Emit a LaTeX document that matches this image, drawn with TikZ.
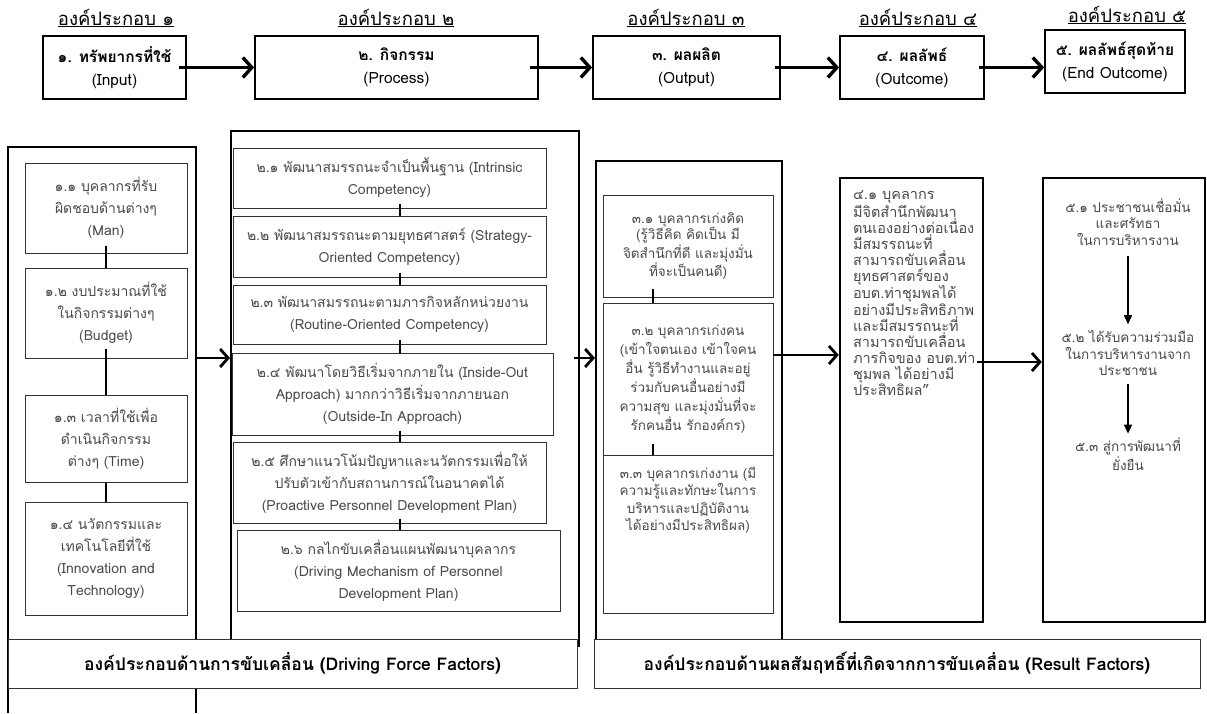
\documentclass[tikz,border=0pt]{standalone}
\usepackage{fontspec}
\setmainfont[Script=Thai]{Loma}
\usetikzlibrary{arrows.meta,calc}
\definecolor{txtgray}{HTML}{4A4A4A}
\definecolor{linegray}{HTML}{333333}
\tikzset{
  hdr/.style={font=\fontsize{18.5}{20}\selectfont, anchor=base, inner sep=0pt},
  topbox/.style={draw=black, line width=1.8pt, align=center, inner sep=2pt, font=\fontsize{15.5}{23}\selectfont},
  frame/.style={draw=black, line width=2.4pt, inner sep=0pt},
  inbox/.style={draw=linegray, line width=1pt, align=center, inner sep=1pt, text=txtgray, font=\fontsize{14}{22}\selectfont},
  cbox/.style={draw=linegray, line width=1pt, inner sep=0pt},
  link/.style={line width=2.8pt, draw=black},
  bigarrow/.style={line width=3.4pt, -{Straight Barb[length=9pt,width=20pt]}},
  colarrow/.style={line width=2.8pt, -{Straight Barb[length=8pt,width=18pt]}},
  downarrow/.style={line width=1.5pt, -{Triangle[length=9pt,width=8pt]}},
  bar/.style={draw=linegray, line width=1pt, fill=white, font=\bfseries\fontsize{17.5}{20}\selectfont},
  coltext/.style={text=txtgray, align=center, inner sep=0pt, font=\fontsize{13.5}{16.5}\selectfont},
}
\begin{document}
\begin{tikzpicture}[x=1pt,y=-1pt]
\useasboundingbox[fill=white] (0,0) rectangle (1207,713);

% headers
\node[hdr] (h1) at (116,25) {\underline{องค์ประกอบ ๑}};
\node[hdr] (h2) at (396,25) {\underline{องค์ประกอบ ๒}};
\node[hdr] (h3) at (686,25) {\underline{องค์ประกอบ ๓}};
\node[hdr] (h4) at (918,25) {\underline{องค์ประกอบ ๔}};
\node[hdr] (h5) at (1127,22) {\underline{องค์ประกอบ ๕}};

% top row
\node[topbox, minimum width=143pt, minimum height=63pt] (n1) at (114.5,67.5) {\textbf{๑. ทรัพยากรที่ใช้}\\(Input)};
\node[topbox, minimum width=283pt, minimum height=63pt] (n2) at (396.5,67.5) {\textbf{๒. กิจกรรม}\\(Process)};
\node[topbox, minimum width=187pt, minimum height=63pt] (n3) at (686.5,67.5) {\textbf{๓. ผลผลิต}\\(Output)};
\node[topbox, minimum width=144pt, minimum height=63pt] (n4) at (912,67.5) {\textbf{๔. ผลลัพธ์}\\(Outcome)};
\node[topbox, minimum width=140pt, minimum height=63pt] (n5) at (1115,61.5) {\textbf{๕. ผลลัพธ์สุดท้าย}\\(End Outcome)};
\draw[bigarrow] ([xshift=-8pt]n1.east) -- (n2.west);
\draw[bigarrow] ([xshift=-9pt]n2.east) -- (n3.west);
\draw[bigarrow] ([xshift=-6pt]n3.east) -- (n4.west);
\draw[bigarrow] ([xshift=-6pt]n4.east) -- (n4.east -| n5.west);

% column 1
\draw[frame] (8,713) -- (8,147) -- (196,147) -- (196,713);
\coordinate (c1e) at (196,358);
\node[inbox, minimum width=162pt, minimum height=90pt] (b11) at (106,208) {๑.๑ บุคลากรที่รับ\\ผิดชอบด้านต่างๆ\\(Man)};
\node[inbox, minimum width=162pt, minimum height=90pt] (b12) at (106,313) {๑.๒ งบประมาณที่ใช้\\ในกิจกรรมต่างๆ\\(Budget)};
\node[inbox, minimum width=162pt, minimum height=87pt] (b13) at (106,438.5) {๑.๓ เวลาที่ใช้เพื่อ\\ดำเนินกิจกรรม\\ต่างๆ (Time)};
\node[inbox, minimum width=162pt, minimum height=113pt] (b14) at (106,558.5) {๑.๔ นวัตกรรมและ\\เทคโนโลยีที่ใช้\\(Innovation and\\Technology)};
\draw[link] ([yshift=8pt]b11.south) -- (b12.north);
\draw[link] ([yshift=10pt]b12.south) -- (b13.north);
\draw[link] (b13.south) -- (b14.north);

% column 2
\node[frame, minimum width=348pt, minimum height=515pt, anchor=north west] (c2) at (230,130) {};
\coordinate (x2) at (400,0);
\node[inbox, minimum width=313pt, minimum height=60pt] (b21) at (389.5,178) {๒.๑ พัฒนาสมรรถนะจำเป็นพื้นฐาน (Intrinsic\\Competency)};
\node[inbox, minimum width=313pt, minimum height=61pt] (b22) at (389.5,246.5) {๒.๒ พัฒนาสมรรถนะตามยุทธศาสตร์ (Strategy-\\Oriented Competency)};
\node[inbox, minimum width=313pt, minimum height=59pt] (b23) at (389.5,314.5) {๒.๓ พัฒนาสมรรถนะตามภารกิจหลักหน่วยงาน\\(Routine-Oriented Competency)};
\node[inbox, minimum width=321pt, minimum height=82pt] (b24) at (392.5,394) {๒.๔ พัฒนาโดยวิธีเริ่มจากภายใน (Inside-Out\\Approach) มากกว่าวิธีเริ่มจากภายนอก\\(Outside-In Approach)};
\node[inbox, minimum width=313pt, minimum height=81pt] (b25) at (389.5,482.5) {๒.๕ ศึกษาแนวโน้มปัญหาและนวัตกรรมเพื่อให้\\ปรับตัวเข้ากับสถานการณ์ในอนาคตได้\\(Proactive Personnel Development Plan)};
\node[inbox, minimum width=323pt, minimum height=81pt] (b26) at (398.5,570.5) {๒.๖ กลไกขับเคลื่อนแผนพัฒนาบุคลากร\\(Driving Mechanism of Personnel\\Development Plan)};
\draw[link] ([yshift=5pt]b21.south -| x2) -- (b22.north -| x2);
\draw[link] ([yshift=5pt]b22.south -| x2) -- (b23.north -| x2);
\draw[link] ([yshift=5pt]b23.south -| x2) -- (b24.north -| x2);
\draw[link] ([yshift=5pt]b24.south -| x2) -- (b25.north -| x2);
\draw[link] ([yshift=5pt]b25.south -| x2) -- (b26.north -| x2);
\draw[colarrow] (c1e) -- (c1e -| c2.west);

% column 3
\node[frame, minimum width=186pt, minimum height=485pt, anchor=north west] (c3) at (595,160) {};
\coordinate (x3) at (653,0);
\node[inbox, font=\fontsize{13.5}{16.7}\selectfont, minimum width=170pt, minimum height=102pt] (b31) at (688,246) {๓.๑ บุคลากรเก่งคิด\\(รู้วิธีคิด คิดเป็น มี\\จิตสำนึกที่ดี และมุ่งมั่น\\ที่จะเป็นคนดี)};
\node[inbox, font=\fontsize{13.5}{19}\selectfont, minimum width=170pt, minimum height=152pt] (b32) at (688,379) {๓.๒ บุคลากรเก่งคน\\(เข้าใจตนเอง เข้าใจคน\\อื่น รู้วิธีทำงานและอยู่\\ร่วมกับคนอื่นอย่างมี\\ความสุข และมุ่งมั่นที่จะ\\รักคนอื่น รักองค์กร)};
\node[cbox, minimum width=170pt, minimum height=158pt] (b33) at (688,534) {};
\node[coltext, anchor=north, font=\fontsize{13.5}{17.5}\selectfont] (t33) at ([yshift=-12pt]b33.north) {๓.๓ บุคลากรเก่งงาน (มี\\ความรู้และทักษะในการ\\บริหารและปฏิบัติงาน\\ได้อย่างมีประสิทธิผล)};
\draw[link] ([yshift=9pt]b31.south -| x3) -- (b32.north -| x3);
\draw[link] ([yshift=12pt]b32.south -| x3) -- (b33.north -| x3);
\draw[colarrow] ([xshift=-6pt]c2.east |- c1e) -- (c1e -| c3.west);

% column 4
\node[frame, minimum width=143pt, minimum height=444pt] (b4) at (911.5,400) {};
\node[coltext, anchor=north west, align=left, font=\fontsize{14.5}{16}\selectfont] (t4) at ([xshift=14pt,yshift=-14pt]b4.north west) {๔.๑ บุคลากร\\มีจิตสำนึกพัฒนา\\ตนเองอย่างต่อเนื่อง\\มีสมรรถนะที่\\สามารถขับเคลื่อน\\ยุทธศาสตร์ของ\\อบต.ท่าชุมพลได้\\อย่างมีประสิทธิภาพ\\และมีสมรรถนะที่\\สามารถขับเคลื่อน\\ภารกิจของ อบต.ท่า\\ชุมพล ได้อย่างมี\\ประสิทธิผล”};
\coordinate (a34) at (773,355);
\draw[colarrow] (a34) -- (a34 -| b4.west);

% column 5
\node[frame, minimum width=162pt, minimum height=444pt] (b5) at (1124,400) {};
\node[coltext] (t51) at (1128,222) {๕.๑ ประชาชนเชื่อมั่น\\และศรัทธา\\ในการบริหารงาน};
\node[coltext] (t52) at (1128,353) {๕.๒ ได้รับความร่วมมือ\\ในการบริหารงานจาก\\ประชาชน};
\node[coltext] (t53) at (1128,454) {๕.๓ สู่การพัฒนาที่\\ยั่งยืน};
\draw[downarrow] ([yshift=-10pt]t51.south) -- ([yshift=6pt]t52.north);
\draw[downarrow] ([yshift=-8pt]t52.south) -- ([yshift=4pt]t53.north);
\coordinate (a45) at (977,362);
\draw[colarrow] (a45) -- (a45 -| b5.west);

% bottom bars
\node[bar, minimum width=569pt, minimum height=49pt] (bl) at (292.5,663.5) {องค์ประกอบด้านการขับเคลื่อน (Driving Force Factors)};
\node[bar, minimum width=606pt, minimum height=49pt] (br) at (897,663.5) {องค์ประกอบด้านผลสัมฤทธิ์ที่เกิดจากการขับเคลื่อน (Result Factors)};
\end{tikzpicture}
\end{document}
